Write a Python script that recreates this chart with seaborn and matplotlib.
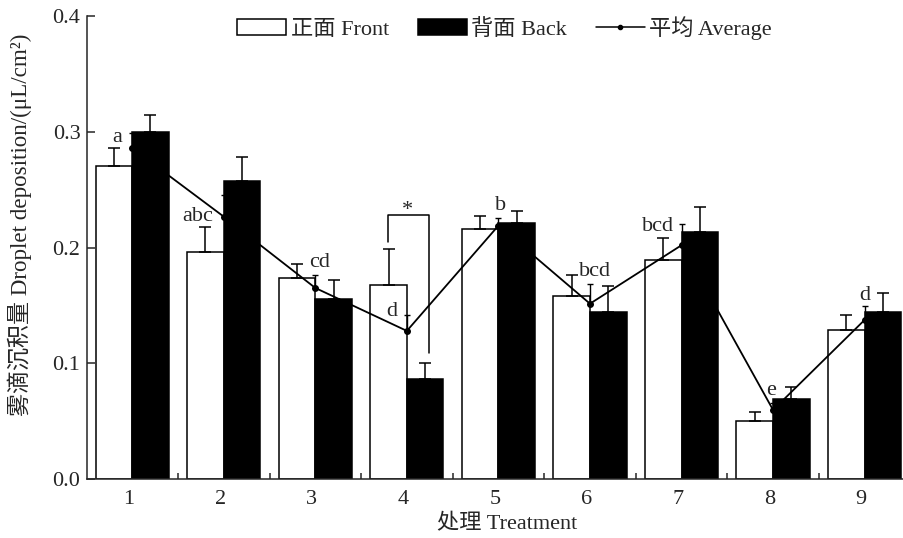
import matplotlib
matplotlib.use("Agg")
import matplotlib.pyplot as plt
import matplotlib.transforms as mtransforms
import pandas as pd
import numpy as np
import seaborn as sns
from matplotlib.patches import Patch
from matplotlib.lines import Line2D
from matplotlib.ticker import FixedLocator

##########
# VALUES #
##########
treatments = ["1", "2", "3", "4", "5", "6", "7", "8", "9"]
front = [0.2705, 0.1965, 0.1735, 0.1674, 0.2158, 0.1582, 0.1895, 0.0502, 0.1288]
front_err = [0.0158, 0.0213, 0.0126, 0.0314, 0.0115, 0.0184, 0.0185, 0.0075, 0.0130]
back = [0.2999, 0.2575, 0.1556, 0.0865, 0.2215, 0.1446, 0.2137, 0.0689, 0.1446]
back_err = [0.0149, 0.0208, 0.0167, 0.0135, 0.0104, 0.0222, 0.0216, 0.0104, 0.0159]
average = [0.2858, 0.2267, 0.1651, 0.1280, 0.2189, 0.1515, 0.2020, 0.0597, 0.1375]
average_err = [0.0129, 0.0185, 0.0112, 0.0138, 0.0067, 0.0171, 0.0186, 0.0060, 0.0120]
letters = ["a", "abc", "cd", "d", "b", "bcd", "bcd", "e", "d"]

# where each letter sits (x in category units, y in data units)
letter_x = [-0.166, 0.718, 2.043, 2.836, 4.023, 5.052, 5.740, 6.980, 8.000]
letter_y = [0.2947, 0.2267, 0.1870, 0.1444, 0.2360, 0.1792, 0.2180, 0.0764, 0.1582]

side_labels = ["正面 Front", "背面 Back"]

#########
# SETUP #
#########
sns.set_style("ticks")
plt.rcParams["font.family"] = ["Liberation Serif", "Noto Sans CJK SC"]
plt.rcParams["font.size"] = 16
plt.rcParams["axes.linewidth"] = 1.1

data = pd.DataFrame({
    "treatment": treatments * 2,
    "side": [side_labels[0]] * len(treatments) + [side_labels[1]] * len(treatments),
    "value": front + back,
})

fig = plt.figure(figsize=(9.04, 5.38), dpi=100)
ax = fig.add_axes([0.0966, 0.1095, 0.9034, 0.8608])

sns.barplot(data=data, x="treatment", y="value", hue="side",
            palette=["white", "black"], edgecolor="black", linewidth=1.1,
            width=0.8, errorbar=None, legend=False, ax=ax)

# upward error bars on the bars
x = np.arange(len(treatments))
for offset, means, errs in [(-0.2, front, front_err), (0.2, back, back_err)]:
    ax.errorbar(x + offset, means, yerr=[np.zeros(len(errs)), errs],
                fmt="none", ecolor="black", elinewidth=1.1, capsize=4.3,
                capthick=1.1, zorder=3)

# average line
sns.lineplot(x=x, y=average, color="black", linewidth=1.3, marker="o",
             markersize=5, markeredgewidth=0, ax=ax, zorder=4)
ax.errorbar(x, average, yerr=[np.zeros(len(average_err)), average_err],
            fmt="none", ecolor="black", elinewidth=1.0, capsize=2.3,
            capthick=1.0, zorder=4)

# significance letters
for lx, ly, txt in zip(letter_x, letter_y, letters):
    ax.text(lx, ly, txt, ha="center", va="center", fontsize=16, zorder=5)

# front vs back bracket at treatment 4
ax.plot([2.793, 2.793, 3.237, 3.237], [0.2051, 0.2284, 0.2284, 0.109],
        color="black", linewidth=1.1, zorder=5)
ax.text(3.008, 0.2235, "*", ha="center", va="bottom", fontsize=16)

##########
# AXES   #
##########
ax.set_xlim(-0.49, 8.43)
ax.set_ylim(0, 0.4)
ax.set_yticks([0.0, 0.1, 0.2, 0.3, 0.4])
ax.set_yticklabels(["0.0", "0.1", "0.2", "0.3", "0.4"])
ax.xaxis.set_minor_locator(FixedLocator(np.arange(0.5, 8.5, 1.0)))
ax.tick_params(axis="y", direction="in", length=6, width=1.1, pad=5, labelsize=16)
ax.tick_params(axis="x", which="major", length=0, pad=8, labelsize=16)
ax.tick_params(axis="x", which="minor", direction="in", length=4, width=1.1)
sns.despine(ax=ax)

# the treatment numbers sit a little left of the bar groups
shift = mtransforms.ScaledTranslation(-3.5 / 100, 0, fig.dpi_scale_trans)
for lbl in ax.get_xticklabels():
    lbl.set_transform(lbl.get_transform() + shift)

ax.set_xlabel("处理 Treatment", fontsize=16)
ax.set_ylabel("雾滴沉积量 Droplet deposition/(μL/cm²)", fontsize=16.6)
ax.xaxis.set_label_coords(0.514, -0.076)
ax.yaxis.set_label_coords(-0.068, 0.549)

handles = [
    Patch(facecolor="white", edgecolor="black", linewidth=1.1),
    Patch(facecolor="black", edgecolor="black", linewidth=1.1),
    Line2D([0], [0], color="black", linewidth=1.1, marker="o", markersize=3),
]
fig.legend(handles, side_labels + ["平均 Average"], loc="center",
           bbox_to_anchor=(0.558, 0.948), ncol=3, frameon=False,
           handlelength=2.2, handleheight=0.75, handletextpad=0.2,
           columnspacing=1.3, fontsize=16)

fig.savefig("out.png", dpi=100)
